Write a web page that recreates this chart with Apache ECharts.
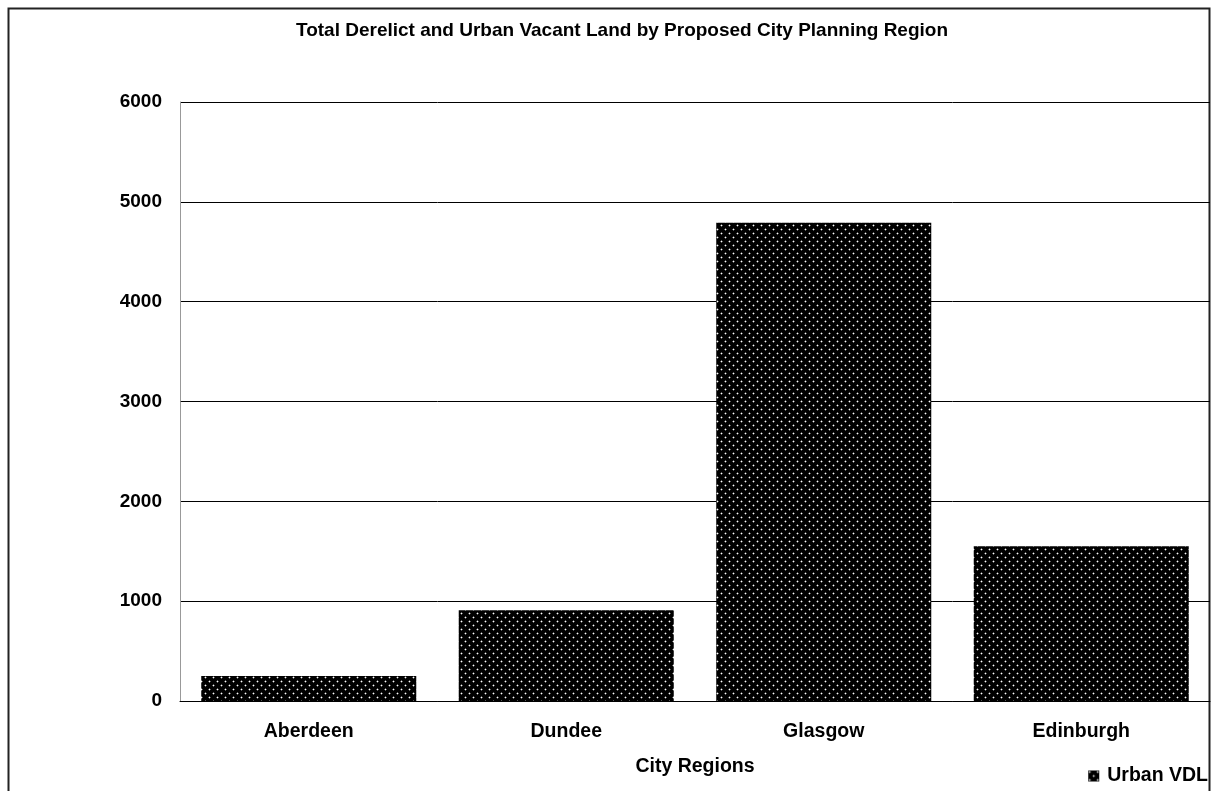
<!DOCTYPE html>
<html>
<head>
<meta charset="utf-8">
<script src="https://cdn.jsdelivr.net/npm/echarts@6/dist/echarts.min.js"></script>
<style>
  html, body { margin: 0; padding: 0; background: #fff; }
  #chart { width: 1219px; height: 791px; }
</style>
</head>
<body>
<div id="chart"></div>
<script>
// City planning regions and their derelict / urban vacant land totals
const regions = ['Aberdeen', 'Dundee', 'Glasgow', 'Edinburgh'];
const urbanVDL = [250, 910, 4790, 1550];
const yTicks = [0, 1000, 2000, 3000, 4000, 5000, 6000];

// Black fill with a staggered grid of small light dots
function dotPattern() {
  const c = document.createElement('canvas');
  c.width = 8; c.height = 8;
  const g = c.getContext('2d');
  g.fillStyle = '#000';
  g.fillRect(0, 0, 8, 8);
  const dots = [[1, 1], [5, 5]];
  dots.forEach(([x, y]) => {
    g.fillStyle = 'rgba(255,255,255,0.35)';
    g.fillRect(x - 1, y, 3, 1);
    g.fillRect(x, y - 1, 1, 3);
    g.fillStyle = '#fff';
    g.fillRect(x, y, 1, 1);
  });
  return c;
}
const fill = { image: dotPattern(), repeat: 'repeat' };

const font = 'Liberation Sans, Arial, sans-serif';
const chart = echarts.init(document.getElementById('chart'), null, { renderer: 'canvas' });

chart.setOption({
  animation: false,
  backgroundColor: '#fff',
  title: {
    text: 'Total Derelict and Urban Vacant Land by Proposed City Planning Region',
    left: 617, top: 16, textAlign: 'center',
    textStyle: { fontFamily: font, fontWeight: 'bold', fontSize: 19, color: '#000' }
  },
  legend: {
    data: ['Urban VDL'],
    right: 6, bottom: 0,
    itemWidth: 11, itemHeight: 11,
    icon: 'rect',
    textStyle: { fontFamily: font, fontWeight: 'bold', fontSize: 19.5, color: '#000', padding: [0, 0, 0, 3] }
  },
  grid: { left: 180, right: 9, top: 102, bottom: 90, containLabel: false },
  xAxis: {
    type: 'category',
    data: regions,
    name: 'City Regions',
    nameLocation: 'middle',
    nameGap: 56,
    nameTextStyle: { fontFamily: font, fontWeight: 'bold', fontSize: 19.5, color: '#000' },
    axisLine: { lineStyle: { color: '#000', width: 1 } },
    axisTick: { show: false },
    axisLabel: { fontFamily: font, fontWeight: 'bold', fontSize: 19.5, color: '#000', margin: 21 }
  },
  yAxis: {
    type: 'value',
    min: yTicks[0],
    max: yTicks[yTicks.length - 1],
    interval: 1000,
    axisLine: { show: true, lineStyle: { color: '#999', width: 1 } },
    axisTick: { show: false },
    axisLabel: {
      fontFamily: font, fontWeight: 'bold', fontSize: 19, color: '#000', margin: 18,
      formatter: v => String(v)
    },
    splitLine: { lineStyle: { color: '#000', width: 1 } }
  },
  series: [{
    name: 'Urban VDL',
    type: 'bar',
    data: urbanVDL,
    barCategoryGap: '16.5%',
    itemStyle: { color: fill }
  }],
  graphic: [{
    type: 'rect',
    shape: { x: 8.5, y: 8.5, width: 1201, height: 800 },
    style: { fill: 'none', stroke: '#222', lineWidth: 2 },
    silent: true
  }]
});
</script>
</body>
</html>
